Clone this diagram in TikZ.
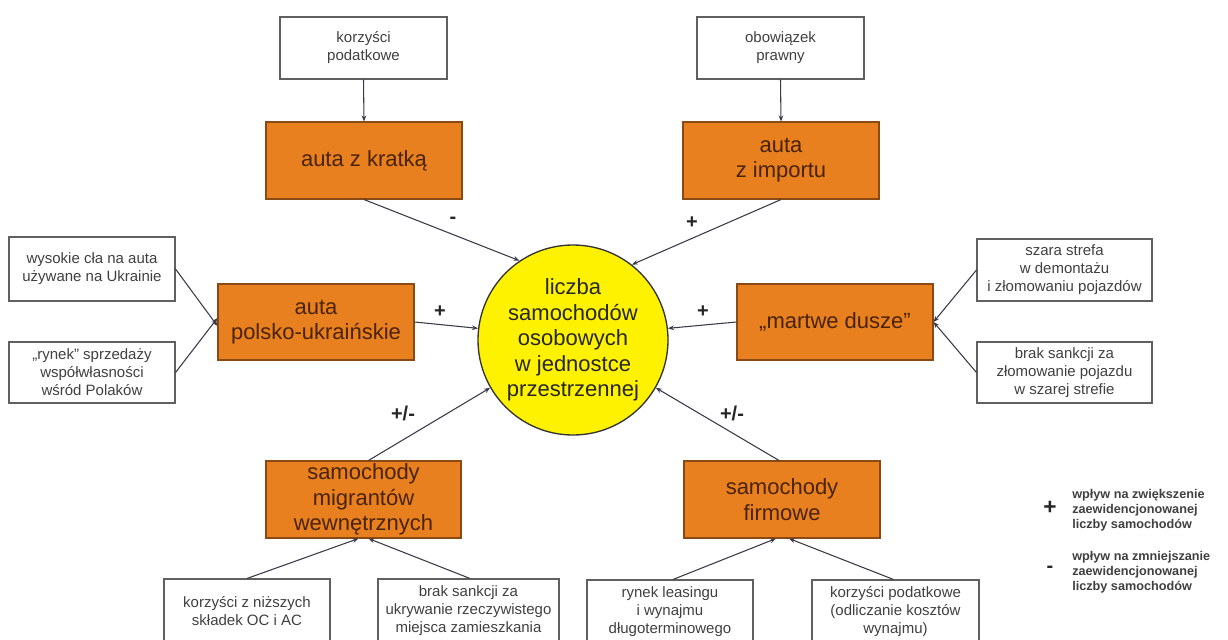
\documentclass[tikz,border=0pt]{standalone}
\usepackage{fontspec}
\setmainfont{Liberation Sans}
\usetikzlibrary{arrows.meta}
\def\px{0.75pt}
\definecolor{orfill}{HTML}{E8801F}
\definecolor{ordraw}{HTML}{8A4A14}
\definecolor{ortext}{HTML}{4A2306}
\definecolor{circfill}{HTML}{FFF200}
\definecolor{wbdraw}{HTML}{606060}
\definecolor{wbtext}{HTML}{404040}
\definecolor{arr}{HTML}{3A3A4A}
\tikzset{
  orbox/.style={draw=ordraw, line width=0.8pt, fill=orfill, text=ortext, align=center, inner sep=0pt,
     font=\fontsize{16.5}{19}\selectfont},
  whbox/.style={draw=wbdraw, line width=0.8pt, fill=white, text=wbtext, align=center, inner sep=0pt,
     font=\fontsize{11.25}{13.5}\selectfont},
  cent/.style={circle, draw=black!80, line width=1pt, fill=circfill, text=black!85, align=center, inner sep=0pt,
     minimum size=190*\px, font=\fontsize{16.5}{19.1}\selectfont},
  conn/.style={draw=arr, line width=0.8pt, -{Stealth[length=4.5pt,width=3.5pt]}},
  sign/.style={font=\bfseries\fontsize{15}{15}\selectfont, text=black!85},
  legtext/.style={font=\bfseries\fontsize{9.5}{11.4}\selectfont, align=left, anchor=west, text=black!75, inner sep=0pt}
}
\begin{document}
\begin{tikzpicture}[x=0.75pt, y=-0.75pt]
\useasboundingbox (0,0) rectangle (1228,639);
\clip (0,0) rectangle (1228,639);
\fill[white] (0,0) rectangle (1228,639);

% central circle
\node[cent] (c) at (573,340) {liczba\\samochodów\\osobowych\\w jednostce\\przestrzennej};

% top
\node[whbox, minimum width=167*\px, minimum height=62*\px] (kp) at (363.5,48) {korzyści\\podatkowe};
\node[orbox, minimum width=196*\px, minimum height=77*\px] (kr) at (364,160.5) {auta z kratką};
\node[whbox, minimum width=167*\px, minimum height=62*\px] (ob) at (780.5,48) {obowiązek\\prawny};
\node[orbox, minimum width=196*\px, minimum height=77*\px] (im) at (781,160.5) {auta\\z importu};

% left
\node[orbox, minimum width=196*\px, minimum height=76*\px] (pu) at (316,322) {auta\\polsko-ukraińskie};
\node[whbox, minimum width=166*\px, minimum height=64*\px] (wc) at (92,269) {wysokie cła na auta\\używane na Ukrainie};
\node[whbox, minimum width=166*\px, minimum height=61*\px] (ry) at (92,372.5) {„rynek” sprzedaży\\współwłasności\\wśród Polaków};

% right
\node[orbox, minimum width=196*\px, minimum height=76*\px] (md) at (835,322) {„martwe dusze”};
\node[whbox, minimum width=175*\px, minimum height=62*\px] (ss) at (1064.5,270) {szara strefa\\w demontażu\\i złomowaniu pojazdów};
\node[whbox, minimum width=175*\px, minimum height=61*\px] (bs) at (1064.5,372.5) {brak sankcji za\\złomowanie pojazdu\\w szarej strefie};

% bottom
\node[orbox, minimum width=195*\px, minimum height=77*\px] (mg) at (363.5,499.5) {samochody\\migrantów\\wewnętrznych};
\node[orbox, minimum width=196*\px, minimum height=77*\px] (fi) at (782,499.5) {samochody\\firmowe};

\node[whbox, minimum width=166*\px, minimum height=64*\px] (b1) at (247,611) {korzyści z niższych\\składek OC i AC};
\node[whbox, minimum width=181*\px, minimum height=64*\px] (b2) at (468.5,611) {brak sankcji za\\ukrywanie rzeczywistego\\miejsca zamieszkania};
\node[whbox, minimum width=166*\px, minimum height=64*\px] (b3) at (670,612) {rynek leasingu\\i wynajmu\\długoterminowego};
\node[whbox, minimum width=167*\px, minimum height=64*\px] (b4) at (895.5,612) {korzyści podatkowe\\(odliczanie kosztów\\wynajmu)};

% connectors
\draw[conn] (kp.south) -- (kr.north);
\draw[conn] (ob.south) -- (im.north);
\draw[conn] (kr.south) -- (c.124);
\draw[conn] (im.south) -- (c.52);
\draw[conn] (pu.east) -- (c.173);
\draw[conn] (md.west) -- (c.7);
\draw[conn] ([xshift=5*\px]mg.north) -- (c.210);
\draw[conn] ([xshift=-3*\px]fi.north) -- (c.330);

\draw[conn] (wc.east) -- ([yshift=-4*\px]pu.west);
\draw[conn] (ry.east) -- ([yshift=4*\px]pu.west);
\draw[conn] (ss.west) -- (md.east);
\draw[conn] (bs.west) -- (md.east);

\draw[conn] ([xshift=0]b1.north) -- ([xshift=-5*\px]mg.south);
\draw[conn] ([xshift=1.5*\px]b2.north) -- ([xshift=5*\px]mg.south);
\draw[conn] ([xshift=3*\px]b3.north) -- ([xshift=-6*\px]fi.south);
\draw[conn] ([xshift=-2*\px]b4.north) -- ([xshift=7*\px]fi.south);

% signs
\node[sign] (s1) at (453,220) {-};
\node[sign] (s2) at (692,223) {+};
\node[sign] (s3) at (440,312) {+};
\node[sign] (s4) at (703,312) {+};
\node[sign] (s5) at (403,413) {+/-};
\node[sign] (s6) at (732,413) {+/-};

% legend
\node[font=\bfseries\fontsize{17}{17}\selectfont, text=black!85] (lp) at (1050,508) {+};
\node[legtext] (lpt) at (1072,510) {wpływ na zwiększenie\\zaewidencjonowanej\\liczby samochodów};
\node[font=\bfseries\fontsize{15}{15}\selectfont, text=black!85] (lm) at (1050,569) {-};
\node[legtext] (lmt) at (1072,572) {wpływ na zmniejszanie\\zaewidencjonowanej\\liczby samochodów};
\end{tikzpicture}
\end{document}
